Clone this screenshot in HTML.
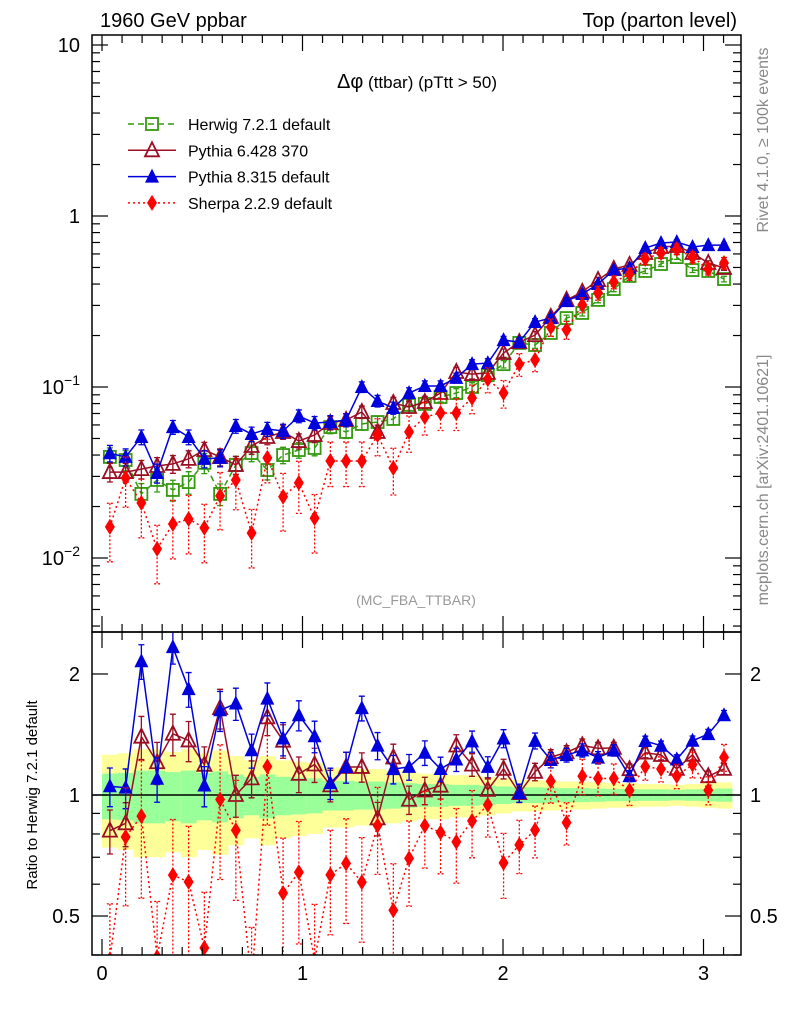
<!DOCTYPE html>
<html><head><meta charset="utf-8"><style>
html,body{margin:0;padding:0;background:#fff;}
svg{display:block;font-family:"Liberation Sans",sans-serif;}
</style></head><body>
<svg id="c" width="786" height="1024" viewBox="0 0 786 1024" xmlns="http://www.w3.org/2000/svg">
<defs>
<clipPath id="cpMain"><rect x="92" y="35" width="649" height="597"/></clipPath>
<clipPath id="cpRatio"><rect x="92" y="632" width="649" height="323"/></clipPath>
</defs>
<g id="bands" clip-path="url(#cpRatio)"></g>
<line x1="92" x2="741" y1="795" y2="795" stroke="#000" stroke-width="1.5"/>
<g id="series-main" clip-path="url(#cpMain)"></g>
<g id="series-ratio" clip-path="url(#cpRatio)"></g>
<g id="axes"></g>
<rect x="92" y="35" width="649" height="597" fill="none" stroke="#000" stroke-width="1.5"/>
<rect x="92" y="632" width="649" height="323" fill="none" stroke="#000" stroke-width="1.5"/>
<text x="100" y="27" font-size="20">1960 GeV ppbar</text>
<text x="737" y="27" font-size="20" text-anchor="end">Top (parton level)</text>
<text x="417" y="88" font-size="17" text-anchor="middle"><tspan font-size="20">Δφ</tspan> (ttbar) (pTtt &gt; 50)</text>
<text x="416" y="605" font-size="14" fill="#999" text-anchor="middle">(MC_FBA_TTBAR)</text>
<text transform="translate(768,140) rotate(-90)" font-size="16" fill="#888" text-anchor="middle">Rivet 4.1.0, ≥ 100k events</text>
<text transform="translate(768,480) rotate(-90)" font-size="16" fill="#888" text-anchor="middle">mcplots.cern.ch [arXiv:2401.10621]</text>
<text transform="translate(37,795) rotate(-90)" font-size="15" text-anchor="middle">Ratio to Herwig 7.2.1 default</text>
<g id="legend"></g>
</svg>
<script>
const NS="http://www.w3.org/2000/svg";
const nb=40;
const herwig=[0.039,0.0374,0.0237,0.0286,0.025,0.0278,0.036,0.0237,0.035,0.0411,0.0327,0.040,0.0428,0.044,0.0583,0.0546,0.0608,0.0624,0.065,0.0785,0.0796,0.0874,0.0922,0.1,0.1175,0.136,0.181,0.176,0.207,0.253,0.271,0.323,0.374,0.446,0.477,0.524,0.575,0.483,0.477,0.428];
const pythia6=[0.0318,0.0318,0.0331,0.0345,0.0355,0.038,0.0428,0.039,0.035,0.0452,0.051,0.0546,0.0483,0.0524,0.0616,0.0641,0.0714,0.0546,0.0806,0.0764,0.0817,0.0922,0.1224,0.119,0.121,0.158,0.183,0.201,0.257,0.323,0.360,0.422,0.490,0.517,0.608,0.659,0.668,0.608,0.531,0.497];
const pythia8=[0.041,0.039,0.051,0.0314,0.0583,0.051,0.038,0.0385,0.0591,0.0531,0.0568,0.0553,0.0676,0.0616,0.0624,0.0641,0.1,0.0828,0.0754,0.0922,0.1014,0.1014,0.113,0.136,0.138,0.188,0.183,0.240,0.253,0.318,0.350,0.400,0.483,0.497,0.650,0.695,0.705,0.659,0.676,0.676];
const sherpa=[0.0152,0.0294,0.021,0.0113,0.0158,0.0169,0.015,0.0231,0.0286,0.014,0.0385,0.0228,0.0275,0.0171,0.0369,0.0369,0.0369,0.0524,0.0336,0.0546,0.0668,0.0705,0.0705,0.0862,0.111,0.0922,0.136,0.144,0.224,0.216,0.302,0.355,0.411,0.458,0.561,0.608,0.641,0.575,0.490,0.531];
const yellowHalf=[0.26,0.27,0.30,0.30,0.28,0.30,0.27,0.29,0.25,0.22,0.25,0.22,0.21,0.20,0.17,0.17,0.16,0.16,0.15,0.14,0.13,0.13,0.12,0.12,0.11,0.10,0.09,0.09,0.085,0.08,0.08,0.075,0.07,0.07,0.065,0.065,0.06,0.065,0.07,0.075];
const greenHalf=[0.13,0.135,0.15,0.15,0.14,0.15,0.135,0.145,0.125,0.11,0.125,0.11,0.105,0.10,0.085,0.085,0.08,0.08,0.075,0.07,0.065,0.065,0.06,0.06,0.055,0.05,0.045,0.045,0.043,0.04,0.04,0.038,0.035,0.035,0.033,0.033,0.03,0.033,0.035,0.038];
const relErr6=0.10, relErr8=0.10, relErrS=0.25;
const xTicks=[0,1,2,3];
const yMainTicks=[10,1,0.1,0.01];
const yRatioTicks=[2,1,0.5];

const X=v=>102+200.5*v;
const YM=v=>216-171*Math.log10(v);
const YR=r=>795-402*Math.log10(r);
const bw=Math.PI/nb;
const xc=k=>(k+0.5)*bw;

function mk(tag,attrs,parent){const e=document.createElementNS(NS,tag);for(const a in attrs)e.setAttribute(a,attrs[a]);parent.appendChild(e);return e;}

const bands=document.getElementById('bands');
for(let k=0;k<nb;k++){
  const x0=X(k*bw),x1=X((k+1)*bw);
  const y=mk('rect',{x:x0,y:YR(1+yellowHalf[k]),width:x1-x0+0.5,height:YR(1-yellowHalf[k])-YR(1+yellowHalf[k]),fill:'#ffff99'},bands);
  
  
  const g=mk('rect',{x:x0,y:YR(1+greenHalf[k]),width:x1-x0+0.5,height:YR(1-greenHalf[k])-YR(1+greenHalf[k]),fill:'#99ff99'},bands);
  
  
}

function marker(type,x,y,color,parent){
  let e;
  if(type==='sq') e=mk('rect',{x:x-6,y:y-6,width:12,height:12,fill:'none',stroke:color,'stroke-width':1.8},parent);
  else if(type==='tri') e=mk('polygon',{points:`${x},${y-8} ${x-7},${y+6} ${x+7},${y+6}`,fill:'none',stroke:color,'stroke-width':1.8},parent);
  else if(type==='ftri') e=mk('polygon',{points:`${x},${y-8} ${x-7},${y+6} ${x+7},${y+6}`,fill:color},parent);
  else e=mk('polygon',{points:`${x},${y-8} ${x-5},${y} ${x},${y+8} ${x+5},${y}`,fill:color},parent);
  return e;
}

const series=[
 {name:'herwig',vals:herwig,err:k=>greenHalf[k],color:'#339a0f',dash:'6,4',m:'sq',label:'Herwig 7.2.1 default',ratio:false},
 {name:'pythia6',vals:pythia6,err:k=>relErr6*Math.min(1.5,Math.sqrt(0.05/pythia6[k])),color:'#9a0e23',dash:'',m:'tri',label:'Pythia 6.428 370',ratio:true},
 {name:'pythia8',vals:pythia8,err:k=>relErr8*Math.min(1.5,Math.sqrt(0.05/pythia8[k])),color:'#0000dd',dash:'',m:'ftri',label:'Pythia 8.315 default',ratio:true},
 {name:'sherpa',vals:sherpa,err:k=>relErrS*Math.min(1.5,Math.sqrt(0.05/sherpa[k])),color:'#ff0000',dash:'2,3',m:'dia',label:'Sherpa 2.2.9 default',ratio:true}
];

const gm=document.getElementById('series-main'), gr=document.getElementById('series-ratio');
series.forEach(s=>{
  const targets=[[gm,k=>s.vals[k],YM]];
  if(s.ratio) targets.push([gr,k=>s.vals[k]/herwig[k],YR]);
  targets.forEach(([par,val,Y])=>{
    const g=mk('g',{},par);
    
    
    let pts=[];
    for(let k=0;k<nb;k++) pts.push(X(xc(k))+','+Y(val(k)));
    const pl=mk('polyline',{points:pts.join(' '),fill:'none',stroke:s.color,'stroke-width':1.5,'stroke-dasharray':s.dash},g);
    
    
    for(let k=0;k<nb;k++){
      const v=val(k), e=s.err(k), x=X(xc(k));
      const eb=mk('path',{d:`M${x},${Y(v*(1+e))}V${Y(v*(1-e))}M${x-3},${Y(v*(1+e))}h6M${x-3},${Y(v*(1-e))}h6`,stroke:s.color,'stroke-width':1.3,fill:'none','stroke-dasharray':s.name==='sherpa'?'2,2':''},g);
      
      
      const m=marker(s.m,x,Y(v),s.color,g);
      
      
    }
  });
});

const lg=document.getElementById('legend');
series.forEach((s,i)=>{
  const y=124+26.3*i;
  const l=mk('line',{x1:128,x2:176,y1:y,y2:y,stroke:s.color,'stroke-width':1.5,'stroke-dasharray':s.dash},lg);
  
  
  const m=marker(s.m,152,y,s.color,lg);
  
  
  const t=mk('text',{x:188,y:y+6,'font-size':16},lg);
  t.textContent=s.label;
  
  
});

const ax=document.getElementById('axes');
function tick(x1,y1,x2,y2){const l=mk('line',{x1,y1,x2,y2,stroke:'#000','stroke-width':1.2},ax);}
for(let i=0;i<=31;i++){
  const v=i/10, x=X(v); if(x<92||x>741) continue;
  const major=i%10===0, len=major?16:8;
  tick(x,35,x,35+len); tick(x,955,x,955-len); tick(x,632,x,632-len); tick(x,632,x,632+len);
}
xTicks.forEach(v=>{const t=mk('text',{x:X(v),y:980,'font-size':20,'text-anchor':'middle'},ax);t.textContent=String(v);});
for(let d=-3;d<=1;d++){
  for(let m=1;m<=9;m++){
    const v=m*Math.pow(10,d), y=YM(v); if(y<35||y>632) continue;
    const len=m===1?16:8;
    tick(92,y,92+len,y); tick(741,y,741-len,y);
  }
}
yMainTicks.forEach(v=>{
  const y=YM(v); const t=mk('text',{x:80,y:y+7,'font-size':20,'text-anchor':'end'},ax);
  
  
  const e=Math.round(Math.log10(v));
  if(e===0||e===1) t.textContent=String(v);
  else {t.textContent='10'; const s=mk('tspan',{dy:-9,'font-size':14},t); s.textContent='−'+(-e);}
});
[0.4,0.5,0.6,0.7,0.8,0.9,1,2].forEach(v=>{
  const y=YR(v); const major=(v===0.5||v===1||v===2); const len=major?16:8;
  tick(92,y,92+len,y); tick(741,y,741-len,y);
});
yRatioTicks.forEach(v=>{
  const y=YR(v);
  const t=mk('text',{x:80,y:y+7,'font-size':20,'text-anchor':'end'},ax);t.textContent=String(v);
  
  
  const t2=mk('text',{x:750,y:y+7,'font-size':20},ax);t2.textContent=String(v);
  
  
});
</script>
</body></html>
